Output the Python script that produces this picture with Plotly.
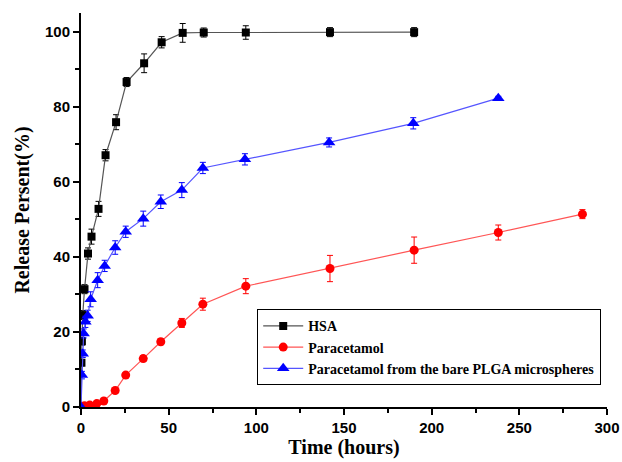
import plotly.graph_objects as go

# HSA
hsa_t = [0, 0.25, 0.5, 1, 2, 4, 6, 10, 14, 20, 26, 36, 46, 58, 70, 94, 142, 190]
hsa_y = [0, 11.8, 17.5, 24.5, 31.4, 40.9, 45.4, 52.8, 67.1, 75.9, 86.6, 91.6, 97.2, 99.7, 99.8, 99.8, 99.9, 99.9]
hsa_e = [0, 0.8, 1.0, 1.2, 1.2, 1.5, 2.0, 2.0, 1.5, 2.0, 1.2, 2.5, 1.5, 2.5, 1.2, 1.8, 1.2, 1.2]

# Paracetamol
par_t = [0, 2, 5, 9, 13, 19.5, 25.5, 35.5, 45.5, 57.5, 69.5, 94, 142, 190, 238, 286]
par_y = [0.2, 0.3, 0.5, 0.9, 1.6, 4.4, 8.5, 12.9, 17.4, 22.4, 27.4, 32.2, 36.9, 41.8, 46.5, 51.4]
par_e = [0.2, 0.2, 0.3, 0.3, 0.4, 0.5, 0.6, 0.8, 0.8, 1.2, 1.6, 2.0, 3.5, 3.5, 2.0, 1.2]

# Paracetamol from the bare PLGA microspheres
plga_t = [0, 0.5, 1, 1.5, 2.5, 3.8, 5.5, 9.5, 13.5, 19.5, 25.5, 35.5, 45.5, 57.5, 69.5, 93.5, 141.5, 189.5, 238]
plga_y = [0, 8.5, 14.2, 19.6, 22.7, 24.3, 28.7, 33.8, 37.6, 42.5, 46.7, 50.2, 54.7, 57.8, 63.7, 66.0, 70.5, 75.6, 82.3]
plga_e = [0, 1.0, 1.0, 1.2, 1.5, 1.5, 2.0, 2.0, 1.5, 1.8, 1.5, 2.0, 1.8, 2.0, 1.5, 1.5, 1.2, 1.5, 0.5]

names = ["HSA", "Paracetamol", "Paracetamol from the bare PLGA microspheres"]

fig = go.Figure()

series = [
    (hsa_t, hsa_y, hsa_e, names[0], "#000000", "#555555", "square", 8),
    (par_t, par_y, par_e, names[1], "#ff0000", "#ff5555", "circle", 9),
    (plga_t, plga_y, plga_e, names[2], "#0000ff", "#5555ff", "triangle-up", 11),
]
for t, y, e, nm, mc, lc, sym, sz in series:
    fig.add_trace(go.Scatter(
        x=t, y=y, name=nm, mode="lines+markers",
        line=dict(color=lc, width=1.2),
        marker=dict(color=mc, symbol=sym, size=sz, line=dict(width=0)),
        error_y=dict(type="data", array=e, visible=True, color=mc, thickness=1, width=3),
    ))

fig.update_layout(
    width=622, height=462,
    margin=dict(l=81, r=15, t=13, b=55),
    paper_bgcolor="white", plot_bgcolor="white",
    showlegend=True,
    legend=dict(
        x=0.335, y=0.248, xanchor="left", yanchor="top",
        bordercolor="black", borderwidth=1, bgcolor="white",
        font=dict(family="Liberation Serif", size=14, color="black", weight="bold"),
        tracegroupgap=0, itemwidth=40,
    ),
)
fig.update_xaxes(
    range=[0, 300], tickvals=[0, 50, 100, 150, 200, 250, 300],
    automargin=False,
    showgrid=False, zeroline=False,
    showline=True, linecolor="black", linewidth=2,
    ticks="outside", ticklen=6, tickwidth=1.5, tickcolor="black",
    minor=dict(tickvals=[25, 75, 125, 175, 225, 275], ticks="outside", ticklen=4, tickwidth=1.5, tickcolor="black"),
    tickfont=dict(family="Liberation Sans", size=15, color="black", weight="bold"),
    title=dict(text="Time (hours)", font=dict(family="Liberation Serif", size=20, color="black", weight="bold"), standoff=2),
)
fig.update_yaxes(
    range=[0, 105], tickvals=[0, 20, 40, 60, 80, 100],
    automargin=False,
    showgrid=False, zeroline=False,
    showline=True, linecolor="black", linewidth=2,
    ticks="outside", ticklen=6, tickwidth=1.5, tickcolor="black",
    minor=dict(tickvals=[10, 30, 50, 70, 90], ticks="outside", ticklen=4, tickwidth=1.5, tickcolor="black"),
    tickfont=dict(family="Liberation Sans", size=15, color="black", weight="bold"),
    title=dict(text="Release Persent(%)", font=dict(family="Liberation Serif", size=20, color="black", weight="bold"), standoff=10),
)

fig.write_html("out.html", config={"displayModeBar": False},
               post_script="document.body.style.margin='0';")
